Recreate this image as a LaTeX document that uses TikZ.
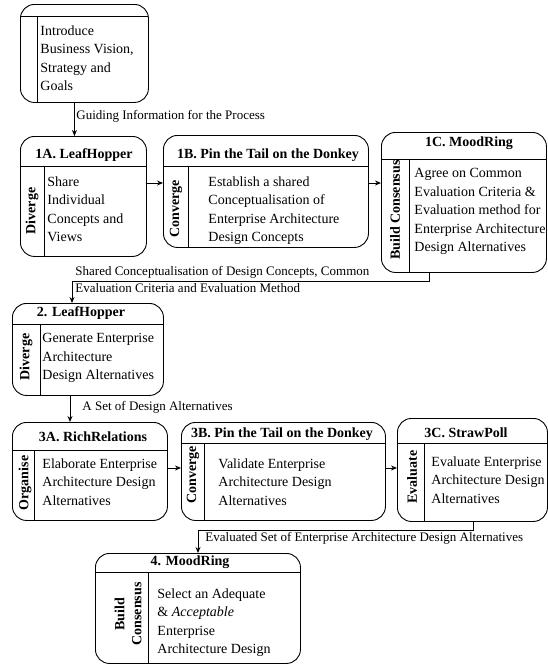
\documentclass[tikz,border=0pt]{standalone}
\usepackage{fontspec}
\setmainfont{Liberation Serif}
\usetikzlibrary{arrows.meta}
\tikzset{
	phase/.style={draw, rounded corners=14pt, anchor=north west, inner sep=0pt, line width=0.9pt},
	head/.style={inner sep=0pt, font=\fontsize{14}{16}\selectfont\bfseries},
	body/.style={anchor=north west, inner sep=0pt, align=left, font=\fontsize{14}{18.5}\selectfont},
	side/.style={rotate=90, inner sep=0pt, align=center, font=\fontsize{14}{17}\selectfont\bfseries},
	flow/.style={line width=0.9pt, -{Stealth[length=6pt,width=5pt]}},
	note/.style={anchor=west, inner sep=0pt, align=left, font=\fontsize{13}{16}\selectfont},
}
\begin{document}
\begin{tikzpicture}[x=1pt, y=-1pt, line width=0.9pt]
	\useasboundingbox (0,0) rectangle (548,664);

	% start
	\node[phase, minimum width=128, minimum height=98] (intro) at (20,4) {};
	\draw (20,16) -- (148,16);
	\draw (37,16) -- (37,102);
	\node[body] (introtxt) at (40,25) {Introduce\\Business Vision,\\Strategy and\\Goals};

	% 1A
	\node[phase, minimum width=126, minimum height=120] (b1a) at (20,136) {};
	\draw (20,166) -- (146,166);
	\draw (44,166) -- (44,256);
	\node[head] (h1a) at (84,155) {1A. LeafHopper};
	\node[side] (s1a) at (32,211) {Diverge};
	\node[body] (t1a) at (47,176) {Share\\Individual\\Concepts and\\Views};

	% 1B
	\node[phase, minimum width=205, minimum height=112] (b1b) at (163,135) {};
	\draw (163,166) -- (368,166);
	\draw (188,166) -- (188,247);
	\node[head] (h1b) at (268,155) {1B. Pin the Tail on the Donkey};
	\node[side] (s1b) at (176,209) {Converge};
	\node[body] (t1b) at (208,176) {Establish a shared\\Conceptualisation of\\Enterprise Architecture\\Design Concepts};

	% 1C
	\node[phase, minimum width=165, minimum height=140] (b1c) at (381,132) {};
	\draw (381,159) -- (546,159);
	\draw (409,159) -- (409,272);
	\node[head] (h1c) at (469,143) {1C. MoodRing};
	\node[side] (s1c) at (395,210) {Build Consensus};
	\node[body] (t1c) at (414,168) {Agree on Common\\Evaluation Criteria \&\\Evaluation method for\\Enterprise Architecture\\Design Alternatives};

	% 2
	\node[phase, minimum width=151, minimum height=92] (b2) at (12,303) {};
	\draw (12,324) -- (163,324);
	\draw (40,324) -- (40,395);
	\node[head] (h2) at (81,313) {2. LeafHopper};
	\node[side] (s2) at (26,357) {Diverge};
	\node[body] (t2) at (42,333) {Generate Enterprise\\Architecture\\Design Alternatives};

	% 3A
	\node[phase, minimum width=155, minimum height=98] (b3a) at (12,422) {};
	\draw (12,450) -- (167,450);
	\draw (34,450) -- (34,520);
	\node[head] (h3a) at (93,437) {3A. RichRelations};
	\node[side] (s3a) at (25,483) {Organise};
	\node[body] (t3a) at (42,458) {Elaborate Enterprise\\Architecture Design\\Alternatives};

	% 3B
	\node[phase, minimum width=204, minimum height=98] (b3b) at (181,422) {};
	\draw (181,443) -- (385,443);
	\draw (204,443) -- (204,520);
	\node[head] (h3b) at (282,434) {3B. Pin the Tail on the Donkey};
	\node[side] (s3b) at (193,475) {Converge};
	\node[body] (t3b) at (218,458) {Validate Enterprise\\Architecture Design\\Alternatives};

	% 3C
	\node[phase, minimum width=150, minimum height=103] (b3c) at (397,418) {};
	\draw (397,443) -- (547,443);
	\draw (424,443) -- (424,521);
	\node[head] (h3c) at (466,433) {3C. StrawPoll};
	\node[side] (s3c) at (412,477) {Evaluate};
	\node[body] (t3c) at (431,456) {Evaluate Enterprise\\Architecture Design\\Alternatives};

	% 4
	\node[phase, minimum width=205, minimum height=110] (b4) at (95,553) {};
	\draw (95,572) -- (300,572);
	\draw (148,572) -- (148,663);
	\node[head] (h4) at (190,562) {4. MoodRing};
	\node[side] (s4) at (128,614) {Build\\Consensus};
	\node[body] (t4) at (157,588) {Select an Adequate\\\& \textit{Acceptable}\\Enterprise\\Architecture Design};

	% flows
	\draw[flow] ([xshift=-10pt]intro.south) -- ([xshift=-10pt]intro.south |- b1a.north);
	\node[note] (n0) at (76,116) {Guiding Information for the Process};
	\draw[flow] (b1a.east |- 0,183) -- (b1b.west |- 0,183);
	\draw[flow] (b1b.east |- 0,183) -- (b1c.west |- 0,183);
	\draw[flow] (b1c.south -| 429,0) |- (72,281) -- (b2.north -| 72,0);
	\node[note] (n1) at (75,272) {Shared Conceptualisation of Design Concepts, Common};
	\node[note] (n2) at (75,288) {Evaluation Criteria and Evaluation Method};
	\draw[flow] (b2.south -| 70,0) -- (b3a.north -| 70,0);
	\node[note] (n3) at (82,407) {A Set of Design Alternatives};
	\draw[flow] (b3a.east |- 0,468) -- (b3b.west |- 0,468);
	\draw[flow] (b3b.east |- 0,468) -- (b3c.west |- 0,468);
	\draw[flow] (b3c.south -| 473,0) |- (198,530) -- (b4.north -| 198,0);
	\node[note] (n4) at (205,538) {Evaluated Set of Enterprise Architecture Design Alternatives};
\end{tikzpicture}
\end{document}
